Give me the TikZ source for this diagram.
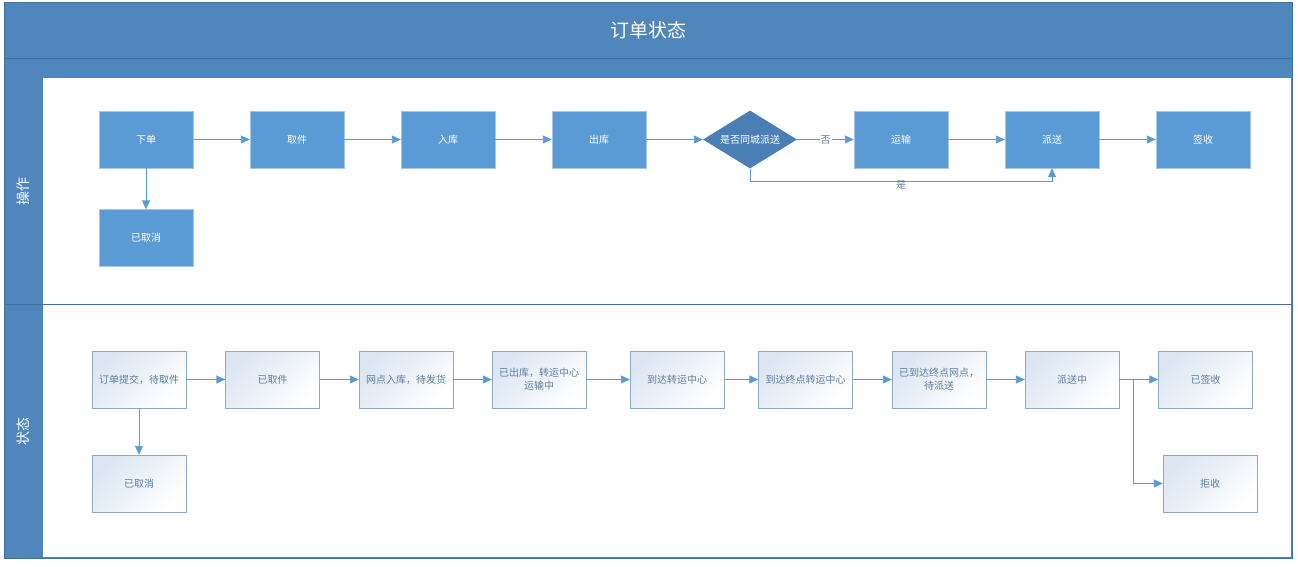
\documentclass[tikz,border=0pt]{standalone}
\usepackage{fontspec}
\newfontfamily\cjk{Noto Sans CJK SC}
\usetikzlibrary{positioning,arrows.meta,shapes.geometric}

\definecolor{lanehead}{HTML}{4F87BD}
\definecolor{laneline}{HTML}{3F6F9F}
\definecolor{opfill}{HTML}{5B9BD5}
\definecolor{opdark}{HTML}{4A7FB6}
\definecolor{flowline}{HTML}{5B9BD5}
\definecolor{stborder}{HTML}{8EA9C8}
\definecolor{sttext}{HTML}{5B7FA6}
\definecolor{sttop}{HTML}{DCE5F1}

\begin{document}
\begin{tikzpicture}[
    x=1pt, y=-1pt,
    op/.style={draw=opfill!55!white, fill=opfill, minimum width=94pt, minimum height=57pt,
        text=white, font=\cjk\fontsize{10}{12}\selectfont},
    decision/.style={diamond, aspect=1.62, fill=opdark, minimum width=94pt, minimum height=58pt,
        inner sep=0pt, text=white, font=\cjk\fontsize{10}{12}\selectfont},
    stbox/.style={draw=stborder, top color=sttop, bottom color=white, shading angle=45,
        minimum width=94pt, minimum height=57pt, align=center, text=sttext,
        font=\cjk\fontsize{10}{13}\selectfont},
    flow/.style={draw=flowline, line width=0.9pt, -{Triangle[length=9pt,width=8pt]}},
    lbl/.style={text=sttext, font=\cjk\fontsize{10}{12}\selectfont, inner sep=1pt}
]
\useasboundingbox (0,0) rectangle (1298,566);

% Swimlane frame
\fill[lanehead] (4,2) rectangle (1292,558);
\fill[white] (43,78) rectangle (1291,557);
\draw[laneline, line width=0.6pt] (4,58) -- (1292,58);
\draw[laneline, line width=0.6pt] (4,304) -- (1292,304);
\draw[laneline, line width=0.6pt] (4,2) rectangle (1292,558);
\node[text=white, font=\cjk\fontsize{19}{22}\selectfont] (title) at (648,30) {订单状态};
\node[rotate=90, text=white, font=\cjk\fontsize{14}{16}\selectfont] (lane1) at (23,191) {操作};
\node[rotate=90, text=white, font=\cjk\fontsize{14}{16}\selectfont] (lane2) at (23,431) {状态};

% Operation lane
\node[op] (xiadan)  at (146,139.5) {下单};
\node[op] (qujian)  at (297,139.5) {取件};
\node[op] (ruku)    at (448,139.5) {入库};
\node[op] (chuku)   at (599,139.5) {出库};
\node[decision] (tongcheng) at (750,139.5) {是否同城派送};
\node[op] (yunshu)  at (901,139.5) {运输};
\node[op] (paisong) at (1052,139.5) {派送};
\node[op] (qianshou) at (1203,139.5) {签收};
\node[op] (quxiao)  at (146,238) {已取消};

\draw[flow] (xiadan) -- (qujian);
\draw[flow] (qujian) -- (ruku);
\draw[flow] (ruku) -- (chuku);
\draw[flow] (chuku) -- (tongcheng);
\draw[flow] (tongcheng) -- node[fill=white, lbl] {否} (yunshu);
\draw[flow] (yunshu) -- (paisong);
\draw[flow] (paisong) -- (qianshou);
\draw[flow] (xiadan) -- (quxiao);
\draw[flow] (tongcheng.south) -- ++(0,13) -| node[pos=0.25, yshift=-3pt, lbl] {是} (paisong.south);

% State lane
\node[stbox] (tijiao)    at (139,379.5) {订单提交，待取件};
\node[stbox] (yiqujian)  at (272.5,379.5) {已取件};
\node[stbox] (wangdian)  at (406,379.5) {网点入库，待发货};
\node[stbox] (yichuku)   at (539,379.5) {已出库，转运中心\\运输中};
\node[stbox] (zhongzhuan) at (677,379.5) {到达转运中心};
\node[stbox] (zhongdian) at (805.5,379.5) {到达终点转运中心};
\node[stbox] (daiqu)     at (939,379.5) {已到达终点网点，\\待派送};
\node[stbox] (paisongz)  at (1072,379.5) {派送中};
\node[stbox] (yiqianshou) at (1205.5,379.5) {已签收};
\node[stbox] (jushou)    at (1210,483.5) {拒收};
\node[stbox] (yiquxiao)  at (139,483.5) {已取消};
\coordinate (fork) at (1133,379.5);

\draw[flow] (tijiao) -- (yiqujian);
\draw[flow] (yiqujian) -- (wangdian);
\draw[flow] (wangdian) -- (yichuku);
\draw[flow] (yichuku) -- (zhongzhuan);
\draw[flow] (zhongzhuan) -- (zhongdian);
\draw[flow] (zhongdian) -- (daiqu);
\draw[flow] (daiqu) -- (paisongz);
\draw[flow] (paisongz) -- (yiqianshou);
\draw[flow] (fork) |- (jushou.west);
\draw[flow] (tijiao) -- (yiquxiao);

\end{tikzpicture}
\end{document}
